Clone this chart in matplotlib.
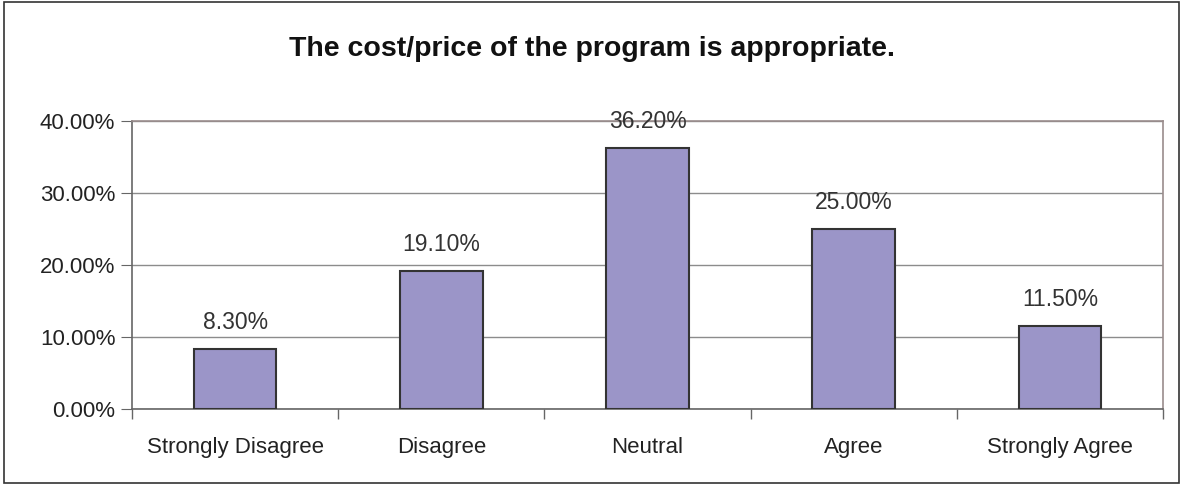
import matplotlib

matplotlib.use("Agg")

import matplotlib.pyplot as plt
from matplotlib.patches import Rectangle
from matplotlib.ticker import FuncFormatter, MultipleLocator

categories = ["Strongly Disagree", "Disagree", "Neutral", "Agree", "Strongly Agree"]
percentages = [8.30, 19.10, 36.20, 25.00, 11.50]
title = "The cost/price of the program is appropriate."

plt.rcParams["font.family"] = ["Liberation Sans", "DejaVu Sans"]

fig = plt.figure(figsize=(11.83, 4.86), dpi=100)
ax = fig.add_axes([0.1116, 0.1584, 0.8715, 0.5926])

x = list(range(len(categories)))
ax.bar(x, percentages, width=0.4, color="#9b95c8", edgecolor="#333333", linewidth=1.5, zorder=3)

for xi, v in zip(x, percentages):
    ax.annotate(f"{v:.2f}%", (xi, v), xytext=(0, 11), textcoords="offset points",
                ha="center", va="bottom", fontsize=16.5, color="#333333", zorder=4)

ax.set_xlim(-0.5, len(categories) - 0.5)
ax.set_ylim(0, 40)
ax.yaxis.set_major_locator(MultipleLocator(10))
ax.yaxis.set_major_formatter(FuncFormatter(lambda v, _: f"{v:.2f}%"))
ax.grid(True, axis="y", color="#8c8c8c", linewidth=1, zorder=0)

ax.set_xticks(x)
ax.set_xticklabels(categories)
ax.set_xticks([i - 0.5 for i in range(len(categories) + 1)], minor=True)
ax.tick_params(axis="x", which="major", length=0, pad=20, labelsize=16, labelcolor="#222222")
ax.tick_params(axis="x", which="minor", length=7, color="#666666", width=1)
ax.tick_params(axis="y", length=8, color="#666666", labelsize=16, labelcolor="#222222", pad=4)

for side in ["left", "bottom"]:
    ax.spines[side].set_color("#666666")
    ax.spines[side].set_linewidth(1.2)
for side in ["top", "right"]:
    ax.spines[side].set_color("#9a8c8c")
    ax.spines[side].set_linewidth(1.2)

fig.text(0.5, 0.9, title, ha="center", va="center", fontsize=20.5, fontweight="bold", color="#111111")

fig.patches.append(Rectangle((0.003, 0.006), 0.994, 0.99, transform=fig.transFigure,
                             fill=False, edgecolor="#333333", linewidth=1.2))

fig.savefig("out.png", dpi=100)
plt.close(fig)
